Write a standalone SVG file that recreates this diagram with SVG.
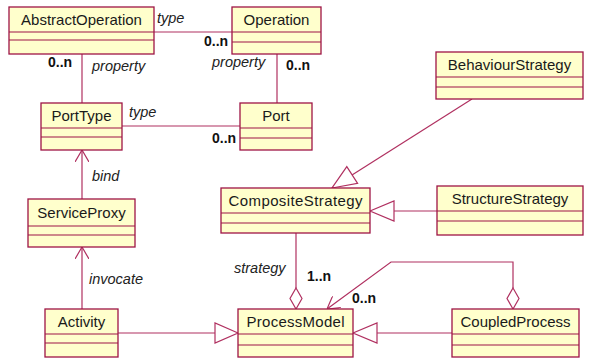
<svg xmlns="http://www.w3.org/2000/svg" width="590" height="360" viewBox="0 0 590 360">
  <style>
    .box { fill: #FFFFCC; stroke: #9E1446; stroke-width: 1.3; }
    .sep { stroke: #9E1446; stroke-width: 1.2; }
    .name { font-family: "Liberation Sans", Arial, sans-serif; font-size: 15px; fill: #1a1a1a; text-anchor: middle; }
    .edge { fill: none; stroke: #B03060; stroke-width: 1.2; }
    .head { fill: #FFFFFF; stroke: #B03060; stroke-width: 1.2; }
    .role { font-family: "Liberation Sans", Arial, sans-serif; font-size: 14.5px; font-style: italic; fill: #222; }
    .mult { font-family: "Liberation Sans", Arial, sans-serif; font-size: 14px; font-weight: bold; fill: #111; }
  </style>
  <defs>
    <marker id="open" viewBox="0 0 12 14" refX="12" refY="7" markerWidth="12" markerHeight="14" markerUnits="userSpaceOnUse" orient="auto">
      <path d="M0,0 L12,7 L0,14" fill="none" stroke="#B03060" stroke-width="1.2"/>
    </marker>
  </defs>
  <rect width="590" height="360" fill="#FFFFFF"/>

  <g id="connectors">
    <!-- associations -->
    <line class="edge" x1="154" y1="32" x2="232" y2="32"/>
    <line class="edge" x1="82" y1="54" x2="82" y2="103"/>
    <line class="edge" x1="277" y1="54" x2="277" y2="103"/>
    <line class="edge" x1="122" y1="126" x2="240" y2="126"/>
    <!-- navigable associations -->
    <line class="edge" x1="82" y1="199" x2="82" y2="150" marker-end="url(#open)"/>
    <line class="edge" x1="82" y1="309" x2="82" y2="247" marker-end="url(#open)"/>
    <!-- generalizations -->
    <line class="edge" x1="118" y1="333" x2="215" y2="333"/>
    <polygon class="head" points="238,333 215,323 215,343"/>
    <line class="edge" x1="452" y1="333" x2="377" y2="333"/>
    <polygon class="head" points="353,333 377,323 377,343"/>
    <line class="edge" x1="437" y1="211" x2="394" y2="211"/>
    <polygon class="head" points="370,211 394,201 394,221"/>
    <line class="edge" x1="472" y1="99" x2="352" y2="175"/>
    <polygon class="head" points="332,188 357.6,183.4 346.8,166.6"/>
    <!-- aggregations -->
    <line class="edge" x1="296" y1="233" x2="296" y2="288"/>
    <polygon class="head" points="296,288 302,298.5 296,309 290,298.5"/>
    <polyline class="edge" points="513,288 513,262 391,262 327,309" marker-end="url(#open)"/>
    <polygon class="head" points="513,288 519,298.5 513,309 507,298.5"/>

    <!-- role names and multiplicities -->
    <text class="role" x="157" y="23">type</text>
    <text class="mult" x="204" y="46">0..n</text>
    <text class="mult" x="48" y="67">0..n</text>
    <text class="role" x="92" y="71">property</text>
    <text class="role" x="212" y="67">property</text>
    <text class="mult" x="286" y="70">0..n</text>
    <text class="role" x="129" y="117">type</text>
    <text class="mult" x="212" y="143">0..n</text>
    <text class="role" x="92" y="181">bind</text>
    <text class="role" x="89" y="284">invocate</text>
    <text class="role" x="234" y="273">strategy</text>
    <text class="mult" x="307" y="281">1..n</text>
    <text class="mult" x="352" y="303">0..n</text>
  </g>

  <g id="AbstractOperation">
    <rect class="box" x="9" y="7" width="145" height="47"/>
    <line class="sep" x1="9" y1="32" x2="154" y2="32"/>
    <line class="sep" x1="9" y1="40" x2="154" y2="40"/>
    <text class="name" x="81.5" y="24.5">AbstractOperation</text>
  </g>
  <g id="Operation">
    <rect class="box" x="232" y="7" width="89" height="47"/>
    <line class="sep" x1="232" y1="32" x2="321" y2="32"/>
    <line class="sep" x1="232" y1="42" x2="321" y2="42"/>
    <text class="name" x="276.5" y="24.5">Operation</text>
  </g>
  <g id="PortType">
    <rect class="box" x="41" y="103" width="81" height="47"/>
    <line class="sep" x1="41" y1="128" x2="122" y2="128"/>
    <line class="sep" x1="41" y1="137" x2="122" y2="137"/>
    <text class="name" x="81.5" y="121">PortType</text>
  </g>
  <g id="Port">
    <rect class="box" x="240" y="103" width="72" height="47"/>
    <line class="sep" x1="240" y1="128" x2="312" y2="128"/>
    <line class="sep" x1="240" y1="138" x2="312" y2="138"/>
    <text class="name" x="276" y="121">Port</text>
  </g>
  <g id="BehaviourStrategy">
    <rect class="box" x="436" y="52" width="147" height="47"/>
    <line class="sep" x1="436" y1="77" x2="583" y2="77"/>
    <line class="sep" x1="436" y1="87" x2="583" y2="87"/>
    <text class="name" x="509.5" y="70">BehaviourStrategy</text>
  </g>
  <g id="ServiceProxy">
    <rect class="box" x="28" y="199" width="107" height="48"/>
    <line class="sep" x1="28" y1="226" x2="135" y2="226"/>
    <line class="sep" x1="28" y1="235" x2="135" y2="235"/>
    <text class="name" x="81.5" y="218">ServiceProxy</text>
  </g>
  <g id="CompositeStrategy">
    <rect class="box" x="221" y="188" width="149" height="45"/>
    <line class="sep" x1="221" y1="213" x2="370" y2="213"/>
    <line class="sep" x1="221" y1="223" x2="370" y2="223"/>
    <text class="name" x="295.5" y="206" textLength="134" lengthAdjust="spacing">CompositeStrategy</text>
  </g>
  <g id="StructureStrategy">
    <rect class="box" x="437" y="186" width="146" height="49"/>
    <line class="sep" x1="437" y1="211" x2="583" y2="211"/>
    <line class="sep" x1="437" y1="221" x2="583" y2="221"/>
    <text class="name" x="510" y="204">StructureStrategy</text>
  </g>
  <g id="Activity">
    <rect class="box" x="45" y="309" width="73" height="48"/>
    <line class="sep" x1="45" y1="334" x2="118" y2="334"/>
    <line class="sep" x1="45" y1="343" x2="118" y2="343"/>
    <text class="name" x="81.5" y="327">Activity</text>
  </g>
  <g id="ProcessModel">
    <rect class="box" x="238" y="309" width="115" height="48"/>
    <line class="sep" x1="238" y1="334" x2="353" y2="334"/>
    <line class="sep" x1="238" y1="345" x2="353" y2="345"/>
    <text class="name" x="295.5" y="327" textLength="98" lengthAdjust="spacing">ProcessModel</text>
  </g>
  <g id="CoupledProcess">
    <rect class="box" x="452" y="309" width="127" height="48"/>
    <line class="sep" x1="452" y1="334" x2="579" y2="334"/>
    <line class="sep" x1="452" y1="345" x2="579" y2="345"/>
    <text class="name" x="515.5" y="327">CoupledProcess</text>
  </g>
</svg>
